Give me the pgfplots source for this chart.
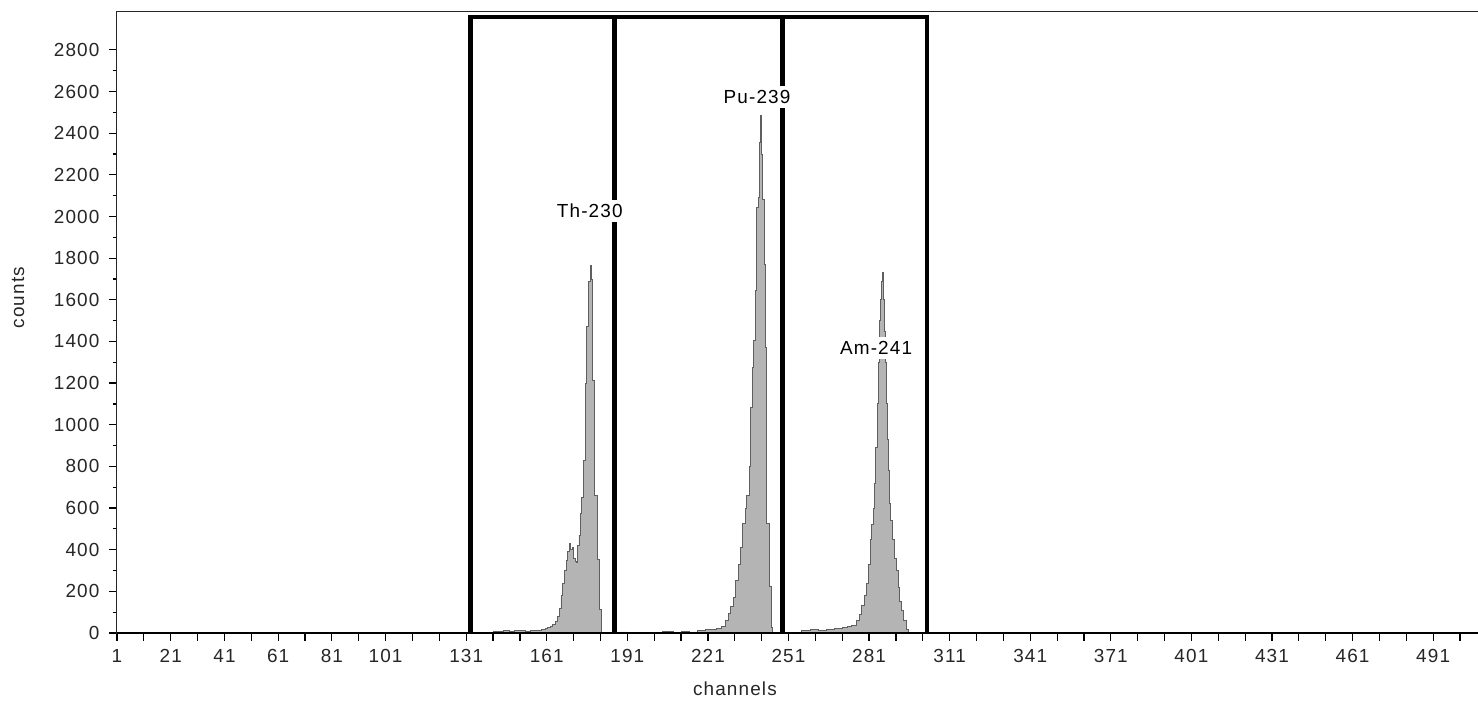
\documentclass[border=0pt]{standalone}
\usepackage{fontspec}
\setmainfont{Liberation Sans}[LetterSpace=6]
\usepackage{pgfplots}
\pgfplotsset{compat=1.18}
\definecolor{specfill}{RGB}{180,180,180}
\definecolor{specline}{RGB}{95,95,95}
\begin{document}
\begin{tikzpicture}
\begin{axis}[
  name=ax,
  at={(0,0)}, anchor=south west,
  scale only axis, width=680.5bp, height=310.5bp,
  xmin=1, xmax=507.7, ymin=0, ymax=2982,
  axis line style={line width=0.5bp, black!85},
  tick align=outside,
  xtick pos=bottom, ytick pos=left,
  major tick length=3.8bp, minor tick length=2.2bp,
  every tick/.style={black, line width=0.6bp},
  xtick={1,11,...,501},
  xticklabels={1,{},21,{},41,{},61,{},81,{},101,{},{},131,{},{},161,{},{},191,{},{},221,{},{},251,{},{},281,{},{},311,{},{},341,{},{},371,{},{},401,{},{},431,{},{},461,{},{},491,{}},
  ytick={0,200,...,2800},
  minor y tick num=1,
  tick label style={font=\fontsize{9.5}{11}\selectfont, text=black!85},
  xticklabel style={yshift=-1bp},
  yticklabel style={xshift=-1.5bp},
  /pgf/number format/assume math mode=true,
  /pgf/number format/1000 sep={},
  xlabel={channels}, ylabel={counts},
  label style={font=\fontsize{9.5}{11}\selectfont, text=black!85},
  xlabel style={at={(rel axis cs:0.454,-0.0902)}, anchor=center},
  ylabel style={at={(rel axis cs:-0.0727,0.54)}, anchor=center},
]
% spectrum (left bin edge, counts)
\addplot[const plot, fill=specfill, draw=specline, line width=0.45bp] coordinates {
(136,0) (139,4) (141,8) (143,6) (145,10) (147,8) (149,12) (151,10) (153,9) (155,14) (157,12) (159,16)
(160.4,22) (161.3,26) (162.3,32) (163.2,42) (164.2,55) (165.0,80) (165.7,120) (166.3,180) (167.0,240)
(167.6,300) (168.2,350) (168.8,390) (169.4,430) (169.9,400) (170.4,410) (171.0,360) (171.6,345) (172.1,340)
(172.6,420) (173.0,470) (173.5,575) (174.0,650) (174.5,830) (175.3,1200) (175.9,1470) (176.5,1690)
(177.2,1766) (177.6,1700) (178.1,1212) (178.7,660) (179.9,355) (180.5,115) (181.2,0)
(188,5) (191,0) (196,4) (200,2) (204,6) (208,3) (211,8) (214,5) (217,12) (220,15) (222,18) (224,22)
(226,30) (227.5,60) (228.5,95) (229.3,126) (230.4,170) (231.3,250) (232.4,330) (233.2,411) (233.9,524)
(234.9,600) (235.5,660) (236.4,800) (237.0,1084) (237.5,1276) (238.0,1404) (238.6,1644) (238.9,1772)
(239.2,2044) (239.7,2092) (240.2,2356) (240.6,2485) (240.9,2300) (241.3,2084) (241.9,1772) (242.3,1372)
(242.7,524) (243.9,222) (244.5,25) (245.2,0)
(252,3) (256,10) (259,15) (262,12) (265,18) (268,22) (271,25) (273,30) (274.5,38) (276.4,60) (277.4,90)
(278.3,130) (279.2,180) (280.1,240) (280.8,330) (281.4,450) (282.0,520) (282.6,600) (283.0,720)
(283.5,890) (284.1,1100) (284.5,1300) (284.8,1500) (285.2,1600) (285.5,1690) (285.9,1732) (286.3,1600)
(286.6,1450) (287.0,1300) (287.4,1100) (287.8,930) (288.2,780) (288.7,620) (289.1,540) (289.7,450)
(290.4,360) (291.2,300) (291.8,220) (292.3,150) (293.0,110) (293.8,60) (294.9,15) (295.5,0)
(343,4) (346,0)
} \closedcycle;
% regions of interest
\addplot[black, line width=2.3bp, line join=miter] coordinates {(132.5,0) (132.5,2958) (302.6,2958) (302.6,0)};
\addplot[black, line width=2.3bp] coordinates {(186.3,0) (186.3,2958)};
\addplot[black, line width=2.3bp] coordinates {(248.8,0) (248.8,2958)};
% peak labels
\node[fill=white, inner sep=2bp, font=\fontsize{9.5}{11}\selectfont] at (axis cs:177.0,2027) {Th-230};
\node[fill=white, inner sep=2bp, font=\fontsize{9.5}{11}\selectfont] at (axis cs:239.3,2574) {Pu-239};
\node[fill=white, inner sep=2bp, font=\fontsize{9.5}{11}\selectfont] at (axis cs:283.6,1369) {Am-241};
\end{axis}
\draw[line width=1bp, black] (ax.south west) -- (ax.south east);
\pgfresetboundingbox
\path (-58.5bp,-34bp) rectangle (680.5bp,316.5bp);
\end{tikzpicture}
\end{document}
